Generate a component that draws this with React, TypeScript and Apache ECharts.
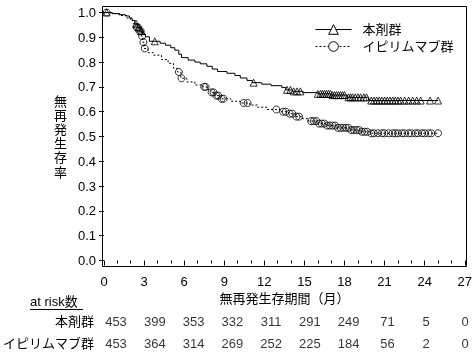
import React, { useEffect, useRef } from 'react';
import * as echarts from 'echarts';

const FONT = "'Liberation Sans', Arial, 'Noto Sans CJK JP', sans-serif";

const groupNames = ['本剤群', 'イピリムマブ群'];
const xTicks = [0, 3, 6, 9, 12, 15, 18, 21, 24, 27];
const yTickStep = 0.1;

// Kaplan–Meier step points [month, survival]
const treatmentCurve: [number, number][] = [
  [0, 1.0], [0.6, 0.996], [1.1, 0.991], [1.6, 0.986], [1.9, 0.978], [2.1, 0.968],
  [2.3, 0.955], [2.5, 0.94], [2.7, 0.925], [2.9, 0.912], [3.1, 0.902], [3.4, 0.884],
  [4.2, 0.876], [4.6, 0.868], [5.0, 0.858], [5.3, 0.848], [5.6, 0.832], [5.8, 0.818],
  [6.3, 0.808], [6.8, 0.8], [7.2, 0.793], [7.7, 0.783], [8.1, 0.772], [8.5, 0.762],
  [9.2, 0.755], [9.8, 0.746], [10.2, 0.736], [10.7, 0.726], [11.1, 0.717], [11.8, 0.711],
  [12.5, 0.705], [13.3, 0.698], [13.6, 0.688], [14.1, 0.682], [14.9, 0.677], [16.0, 0.672],
  [17.0, 0.667], [18.2, 0.658], [19.8, 0.645], [25.0, 0.645],
];
const treatmentCensored: [number, number][] = [
  [0.2, 1.0], [2.4, 0.955], [2.6, 0.94], [2.8, 0.925], [3.8, 0.884], [11.2, 0.717],
  [13.7, 0.688], [13.95, 0.688], [14.2, 0.682], [14.45, 0.682], [14.7, 0.682],
  [16.0, 0.672], [16.2, 0.672], [16.35, 0.672], [16.5, 0.672], [16.65, 0.672], [16.8, 0.672], [16.95, 0.672],
  [17.1, 0.667], [17.25, 0.667], [17.4, 0.667], [17.55, 0.667], [17.7, 0.667], [17.85, 0.667], [18.0, 0.667],
  [18.3, 0.658], [18.45, 0.658], [18.6, 0.658], [18.8, 0.658], [19.0, 0.658], [19.2, 0.658], [19.45, 0.658], [19.65, 0.658],
  [20.0, 0.645], [20.2, 0.645], [20.4, 0.645], [20.6, 0.645], [20.8, 0.645], [21.0, 0.645], [21.2, 0.645],
  [21.4, 0.645], [21.6, 0.645], [21.8, 0.645], [22.0, 0.645], [22.2, 0.645], [22.5, 0.645], [22.8, 0.645],
  [23.1, 0.645], [23.4, 0.645], [23.7, 0.645], [24.4, 0.645], [25.0, 0.645],
];

const controlCurve: [number, number][] = [
  [0, 1.0], [0.6, 0.995], [1.2, 0.988], [1.7, 0.978], [2.0, 0.968], [2.2, 0.955],
  [2.4, 0.94], [2.6, 0.925], [2.8, 0.905], [2.9, 0.88], [3.0, 0.855], [3.3, 0.838],
  [3.7, 0.828], [4.3, 0.81], [4.8, 0.795], [5.2, 0.775], [5.5, 0.76], [5.75, 0.735],
  [6.2, 0.72], [6.8, 0.708], [7.4, 0.7], [7.7, 0.69], [8.0, 0.678], [8.3, 0.665],
  [8.7, 0.652], [9.5, 0.642], [10.2, 0.635], [10.9, 0.627], [11.5, 0.618], [12.2, 0.609],
  [13.2, 0.6], [13.8, 0.592], [14.3, 0.58], [14.8, 0.572], [15.3, 0.562], [16.0, 0.552],
  [16.6, 0.544], [17.4, 0.535], [18.4, 0.526], [19.2, 0.519], [19.9, 0.513], [25.0, 0.513],
];
const controlCensored: [number, number][] = [
  [0.2, 1.0], [2.45, 0.94], [2.55, 0.94], [2.65, 0.925], [2.75, 0.925], [2.85, 0.905],
  [2.95, 0.88], [3.05, 0.855], [5.6, 0.76], [5.8, 0.735], [7.5, 0.7], [7.6, 0.7],
  [8.05, 0.678], [8.2, 0.678], [8.4, 0.665], [8.55, 0.665], [8.8, 0.652], [8.95, 0.652],
  [10.45, 0.635], [10.75, 0.635], [12.9, 0.609], [13.4, 0.6], [13.6, 0.6], [13.9, 0.592],
  [14.1, 0.592], [14.4, 0.58], [14.6, 0.58], [15.5, 0.562], [15.7, 0.562], [15.9, 0.562],
  [16.1, 0.552], [16.3, 0.552], [16.5, 0.552], [16.7, 0.544], [16.9, 0.544], [17.1, 0.544],
  [17.3, 0.544], [17.5, 0.535], [17.7, 0.535], [17.9, 0.535], [18.1, 0.535], [18.3, 0.535],
  [18.5, 0.526], [18.7, 0.526], [18.9, 0.526], [19.1, 0.526], [19.3, 0.519], [19.5, 0.519],
  [19.7, 0.519], [20.0, 0.513], [20.2, 0.513], [20.5, 0.513], [20.8, 0.513], [21.0, 0.513],
  [21.3, 0.513], [21.6, 0.513], [21.8, 0.513], [22.0, 0.513], [22.3, 0.513], [22.5, 0.513],
  [22.8, 0.513], [23.0, 0.513], [23.3, 0.513], [23.5, 0.513], [23.8, 0.513], [24.0, 0.513],
  [24.3, 0.513], [24.5, 0.513], [25.0, 0.513],
];

const atRiskTimes = [0, 3, 6, 9, 12, 15, 18, 21, 24, 27];
const atRiskTreatment = [453, 399, 353, 332, 311, 291, 249, 71, 5, 0];
const atRiskControl = [453, 364, 314, 269, 252, 225, 184, 56, 2, 0];

const yAxisName = '無再発生存率';
const xAxisName = '無再発生存期間（月）';
const atRiskTitle = 'at risk数';

export default function App() {
  const ref = useRef<HTMLDivElement>(null);
  useEffect(() => {
    if (!ref.current) return;
    const chart = echarts.init(ref.current, undefined, { renderer: 'svg' });
    const hollow = { color: 'rgba(0,0,0,0)', borderColor: '#000', borderWidth: 1 };
    const atRiskData: any[] = [];
    atRiskTimes.forEach((t, i) => {
      atRiskData.push([t, groupNames[0], atRiskTreatment[i]]);
      atRiskData.push([t, groupNames[1], atRiskControl[i]]);
    });
    chart.setOption({
      animation: false,
      textStyle: { fontFamily: FONT },
      grid: [
        { left: 104, right: 10, top: 12.5, bottom: 97.5 },
        { left: 104, right: 10, top: 310, height: 44 },
      ],
      legend: {
        data: groupNames,
        orient: 'vertical',
        left: 315,
        top: 23,
        padding: 0,
        itemWidth: 36,
        itemHeight: 12,
        itemGap: 4,
        lineStyle: { width: 1 },
        itemStyle: { borderWidth: 1 },
        textStyle: { fontSize: 13, color: '#000', fontFamily: FONT, padding: [0, 0, 0, 6] },
      },
      xAxis: [
        {
          type: 'value', min: xTicks[0], max: xTicks[xTicks.length - 1], interval: 3,
          offset: 6,
          axisLine: { show: false },
          axisTick: { show: true, length: 5, lineStyle: { color: '#000' } },
          minorTick: { show: true, splitNumber: 3, length: 3, lineStyle: { color: '#000' } },
          splitLine: { show: false },
          axisLabel: { fontSize: 13, color: '#000', margin: 8, fontFamily: FONT },
          name: xAxisName, nameLocation: 'middle', nameGap: 24,
          nameTextStyle: { fontSize: 13, color: '#000', fontFamily: FONT },
        },
        { gridIndex: 1, type: 'value', min: 0, max: 27, show: false },
      ],
      yAxis: [
        {
          type: 'value', min: 0, max: 1, interval: yTickStep,
          offset: 2,
          axisLine: { show: false },
          axisTick: { show: true, length: 5, lineStyle: { color: '#000' } },
          splitLine: { show: false },
          axisLabel: { fontSize: 13, color: '#000', margin: 6, fontFamily: FONT, formatter: (v: number) => v.toFixed(1) },
          name: yAxisName.split('').join('\n'), nameLocation: 'middle', nameRotate: 0, nameGap: 35,
          nameTextStyle: { fontSize: 13, color: '#000', lineHeight: 14.2, fontFamily: FONT },
        },
        {
          gridIndex: 1, type: 'category', data: groupNames, inverse: true,
          axisLine: { show: false }, axisTick: { show: false },
          axisLabel: { fontSize: 13, color: '#000', margin: 22, fontFamily: FONT },
        },
      ],
      series: [
        {
          name: groupNames[0], type: 'line', step: 'end', data: treatmentCurve,
          symbol: 'triangle', showSymbol: false, symbolSize: 7,
          lineStyle: { color: '#000', width: 1 },
          itemStyle: { color: '#fff', borderColor: '#000', borderWidth: 1 },
        },
        {
          name: groupNames[1], type: 'line', step: 'end', data: controlCurve,
          symbol: 'circle', showSymbol: false, symbolSize: 7,
          lineStyle: { color: '#000', width: 1, type: [2, 2] },
          itemStyle: { color: '#fff', borderColor: '#000', borderWidth: 1 },
        },
        {
          name: 'censor-t', type: 'scatter', data: treatmentCensored, symbol: 'triangle',
          symbolSize: 7, itemStyle: hollow,
        },
        {
          name: 'censor-c', type: 'scatter', data: controlCensored, symbol: 'circle',
          symbolSize: 7, itemStyle: hollow,
        },
        {
          name: 'atrisk', type: 'scatter', xAxisIndex: 1, yAxisIndex: 1, data: atRiskData,
          symbolSize: 1, itemStyle: { color: 'rgba(0,0,0,0)' },
          label: {
            show: true, position: 'inside', formatter: (p: any) => String(p.value[2]),
            fontSize: 13, color: '#000', fontFamily: FONT,
          },
        },
      ],
      graphic: [
        {
          type: 'rect', silent: true, z: 10,
          shape: { x: 102.5, y: 6.5, width: 364, height: 260 },
          style: { fill: 'none', stroke: '#000', lineWidth: 1 },
        },
        {
          type: 'text', left: 30, top: 295,
          style: { text: atRiskTitle, fontSize: 13, fill: '#000', fontFamily: FONT },
        },
        {
          type: 'line', silent: true,
          shape: { x1: 30, y1: 309.5, x2: 83, y2: 309.5 },
          style: { stroke: '#000', lineWidth: 1 },
        },
      ],
    });
    return () => chart.dispose();
  }, []);
  return <div ref={ref} style={{ position: 'fixed', left: 0, top: 0, width: 475, height: 358 }} />;
}
